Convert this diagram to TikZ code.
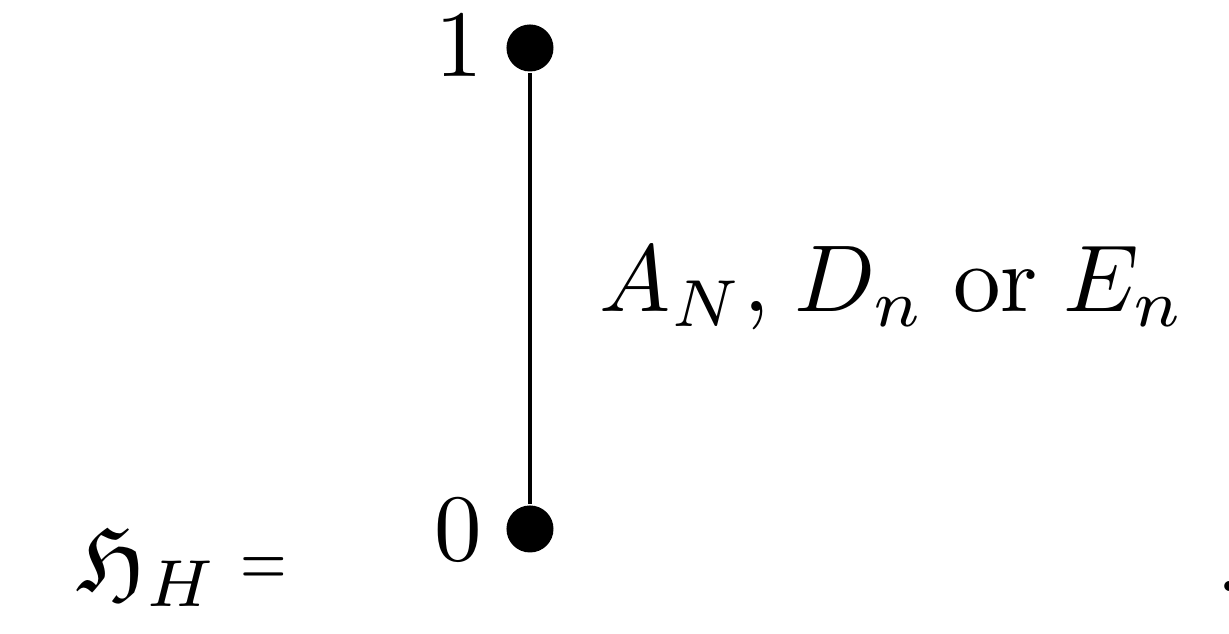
\documentclass[tikz,border=0pt]{standalone}
\usepackage{amsmath,amssymb}
\tikzset{
  vert/.style={circle, fill=black, inner sep=0pt, minimum size=4.95pt},
  lab/.style={inner sep=0pt},
  edge/.style={line width=0.42pt}
}
\begin{document}
\begin{tikzpicture}[x=0.10526pt, y=-0.10526pt]
\useasboundingbox (0,0) rectangle (1229,634);
\node[vert] (v1) at (530,48) {};
\node[vert] (v0) at (530,529) {};
\draw[edge] (v1) -- (v0);
\node[lab, anchor=base east] (l1) at (485,77) {$1$};
\node[lab, anchor=base east] (l0) at (484,561) {$0$};
\node[lab, anchor=base west] (lbl) at (598,312) {$A_N$,\hspace{2.65pt}$D_n$\hspace{2.95pt}or\hspace{2.65pt}$E_n$};
\node[lab, anchor=base west] (h) at (76,592) {$\mathfrak{H}_H$};
\node[lab, anchor=base west] (eq) at (239,587) {\scalebox{0.63}[0.83]{$=$}};
\node[lab, anchor=base west] (dot) at (1215,592) {$.$};
\end{tikzpicture}
\end{document}
